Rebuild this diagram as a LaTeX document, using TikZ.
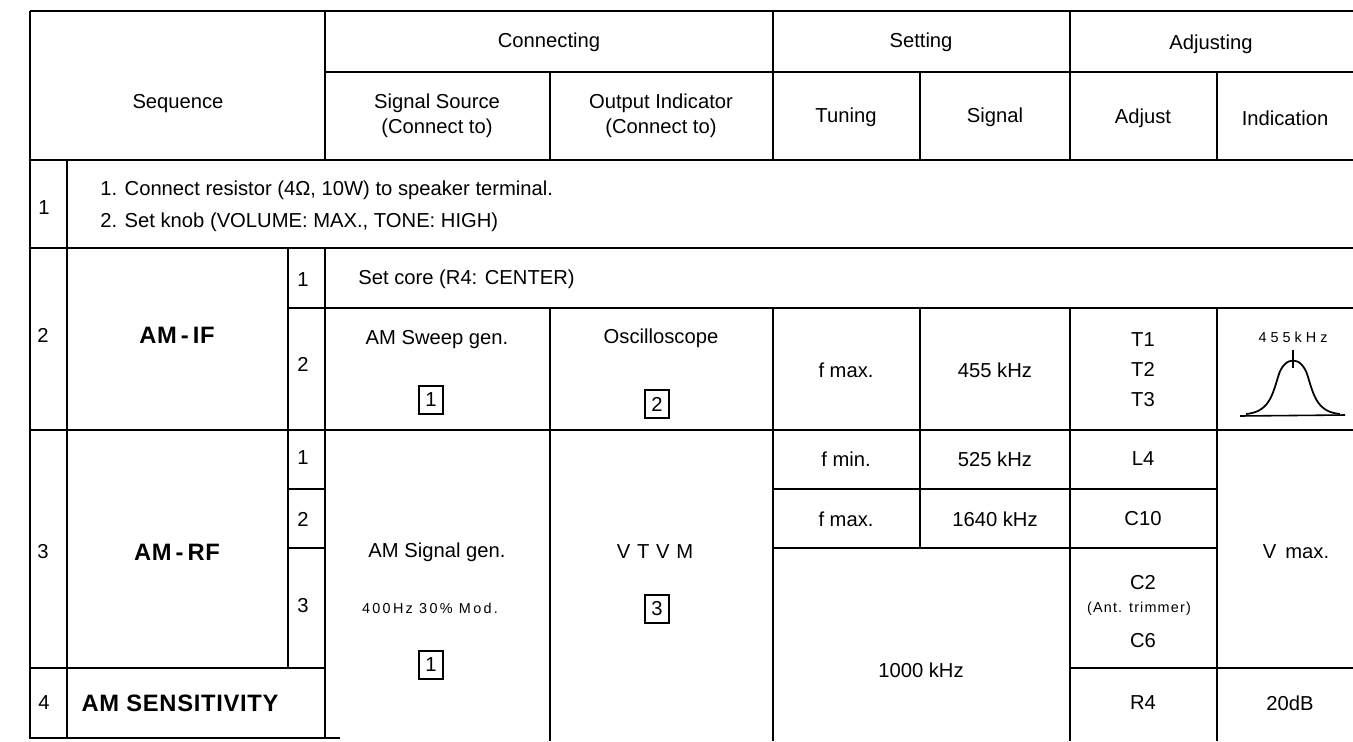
\documentclass[tikz,border=0pt]{standalone}
\usepackage{fontspec}
\setmainfont{Liberation Sans}
\usetikzlibrary{calc}
\begin{document}
\begin{tikzpicture}[x=0.02cm, y=-0.02cm]
	\tikzstyle{rule}=[line width=0.9pt]
	\tikzstyle{frame}=[line width=1.6pt]
	\tikzstyle{cell}=[
	inner sep=0pt,
	align=center,
	font=\fontsize{11.5}{14}\selectfont
	]
	\tikzstyle{rowhead}=[
	inner sep=0pt,
	font=\fontsize{13.5}{15}\selectfont\bfseries\addfontfeature{LetterSpace=3}
	]
	\tikzstyle{small}=[
	inner sep=0pt,
	font=\fontsize{8.2}{10}\selectfont\addfontfeature{LetterSpace=16}
	]
	\tikzstyle{numbox}=[
	draw,
	line width=0.6pt,
	inner sep=0pt,
	minimum width=0.48cm,
	minimum height=0.56cm,
	font=\fontsize{11.5}{13}\selectfont
	]
	\useasboundingbox (0,0) rectangle (1353,741);
	\draw[frame] (30,11) -- (1353,11);
	\draw[frame] (30,11) -- (30,738) -- (340,738);
	\draw[rule] (325,72) -- (1353,72);
	\draw[rule] (30,160) -- (1353,160);
	\draw[rule] (30,248) -- (1353,248);
	\draw[rule] (288,308) -- (1353,308);
	\draw[rule] (30,430) -- (1353,430);
	\draw[rule] (288,489) -- (325,489) (773,489) -- (1217,489);
	\draw[rule] (288,548) -- (325,548) (773,548) -- (1217,548);
	\draw[rule] (30,668) -- (325,668) (1070,668) -- (1353,668);
	\draw[rule] (67,160) -- (67,738);
	\draw[rule] (288,248) -- (288,668);
	\draw[rule] (325,11) -- (325,160) (325,248) -- (325,738);
	\draw[rule] (550,72) -- (550,160) (550,308) -- (550,741);
	\draw[rule] (773,11) -- (773,160) (773,308) -- (773,741);
	\draw[rule] (920,72) -- (920,160) (920,308) -- (920,548);
	\draw[rule] (1070,11) -- (1070,160) (1070,308) -- (1070,741);
	\draw[rule] (1217,72) -- (1217,160) (1217,308) -- (1217,741);

	\node[cell] (seq) at (178,104) {Sequence};
	\node[cell] (conn) at (549,42) {Connecting};
	\node[cell] (sett) at (921,42) {Setting};
	\node[cell] (adjg) at (1211,44) {Adjusting};
	\node[cell] (src) at (437,116) {Signal Source\\(Connect to)};
	\node[cell] (out) at (661,116) {Output Indicator\\(Connect to)};
	\node[cell] (tun) at (846,117) {Tuning};
	\node[cell] (sig) at (995,117) {Signal};
	\node[cell] (adj) at (1143,118) {Adjust};
	\node[cell] (ind) at (1285,118) {Indication};

	\node[cell] (n1) at (44,208) {1};
	\node[cell, anchor=west] (stepa) at (100,190) {1. Connect resistor (4Ω, 10W) to speaker terminal.};
	\node[cell, anchor=west] (stepb) at (100,222) {2. Set knob (VOLUME: MAX., TONE: HIGH)};

	\node[cell] (n2) at (43,335) {2};
	\node[rowhead] (amif) at (177,335) {AM\,-\,IF};
	\node[cell] (n21) at (303,280) {1};
	\node[cell] (n22) at (303,364) {2};
	\node[cell, anchor=west] (core) at (358,279) {Set core (R4: CENTER)};
	\node[cell] (sweep) at (437,340) {AM Sweep gen.};
	\node[numbox] (boxa) at (431,400) {1};
	\node[cell] (scope) at (661,338) {Oscilloscope};
	\node[numbox] (boxb) at (657,404) {2};
	\node[cell] (fmaxa) at (846,370) {f max.};
	\node[cell] (ifsig) at (995,370) {455 kHz};
	\node[cell, font=\fontsize{11.5}{17}\selectfont] (tcoils) at (1143,370) {T1\\T2\\T3};
	\node[small, font=\fontsize{8.2}{10}\selectfont\addfontfeature{LetterSpace=28}] (peak) at (1293,337) {455kHz};
	\draw[line width=0.9pt] (1240,416) -- (1345,415);
	\draw[line width=1pt] (1246,414) .. controls (1268,412) and (1272,397) .. (1278,377)
		.. controls (1284,355) and (1302,355) .. (1308,377)
		.. controls (1314,397) and (1318,412) .. (1340,414);
	\draw[line width=0.9pt] (1293,350) -- (1293,368);

	\node[cell] (n3) at (43,552) {3};
	\node[rowhead] (amrf) at (177,552) {AM\,-\,RF};
	\node[cell] (n31) at (303,458) {1};
	\node[cell] (n32) at (303,519) {2};
	\node[cell] (n33) at (303,606) {3};
	\node[cell] (siggen) at (437,552) {AM Signal gen.};
	\node[small] (mod) at (430,608) {400Hz 30\% Mod.};
	\node[numbox] (boxc) at (431,665) {1};
	\node[cell] (vtvm) at (655,552) {V\,\,T\,\,V\,\,M};
	\node[numbox] (boxd) at (657,609) {3};
	\node[cell] (fmin) at (846,459) {f min.};
	\node[cell] (lowsig) at (995,459) {525 kHz};
	\node[cell] (lfour) at (1143,459) {L4};
	\node[cell] (fmaxb) at (846,519) {f max.};
	\node[cell] (highsig) at (995,519) {1640 kHz};
	\node[cell] (cten) at (1143,519) {C10};
	\node[cell] (midsig) at (921,670) {1000 kHz};
	\node[cell] (ctwo) at (1143,583) {C2};
	\node[small, font=\fontsize{8.2}{10}\selectfont\addfontfeature{LetterSpace=8}] (trim) at (1139,609) {(Ant. trimmer)};
	\node[cell] (csix) at (1143,641) {C6};
	\node[cell] (vmax) at (1296,552) {V\, max.};

	\node[cell] (n4) at (44,703) {4};
	\node[rowhead] (sens) at (180,703) {AM SENSITIVITY};
	\node[cell] (rfour) at (1143,703) {R4};
	\node[cell] (gain) at (1290,703) {20dB};
\end{tikzpicture}
\end{document}
